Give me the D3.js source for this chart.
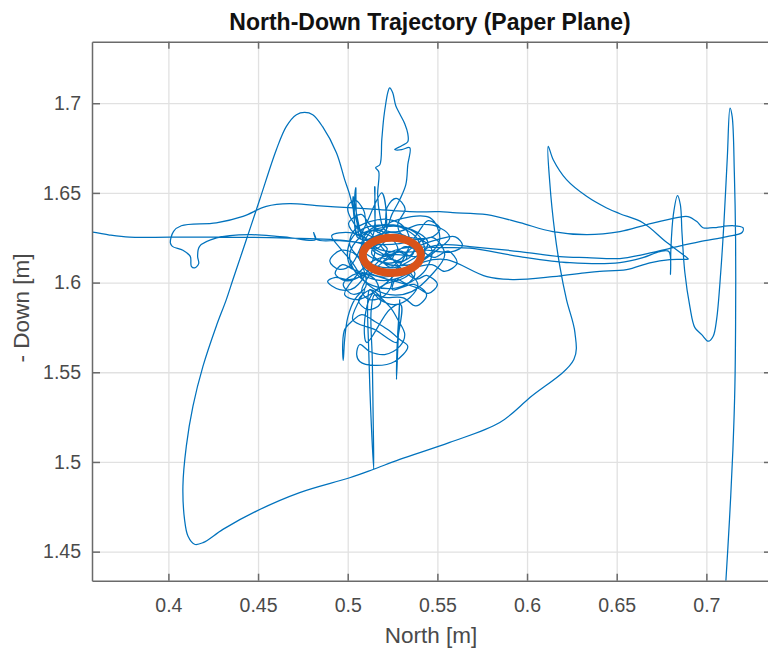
<!DOCTYPE html>
<html>
<head>
<meta charset="utf-8">
<script src="https://cdn.jsdelivr.net/npm/d3@7"></script>
<style>
  body { margin: 0; background: #fff; }
  text { font-family: "Liberation Sans", Arial, sans-serif; }
</style>
</head>
<body>
<div id="viz"></div>
<script>
const xTicks = [0.4, 0.45, 0.5, 0.55, 0.6, 0.65, 0.7],
    yTicks = [1.45, 1.5, 1.55, 1.6, 1.65, 1.7],
    xDomain = [0.3574, 0.7366],
    yDomain = [1.4338, 1.7343];

// trajectory pieces, [north, -down] in metres
const startLeg = [[0.3505,1.6284],[0.3577,1.6281],[0.3672,1.6265],[0.3784,1.6253],[0.4007,1.6253],[0.4286,1.6253],[0.4565,1.6251],[0.4788,1.6245],[0.4955,1.6237],[0.5056,1.6223]];

const knotA = [[0.5134,1.6195],[0.5223,1.6145],[0.5290,1.6117],[0.5357,1.6150],[0.5374,1.6212],[0.5318,1.6262],[0.5223,1.6279],[0.5123,1.6240],[0.5067,1.6167],[0.5089,1.6084],[0.5179,1.6033],[0.5279,1.6045],[0.5385,1.6095],[0.5430,1.6173],[0.5396,1.6262],[0.5290,1.6312],[0.5167,1.6301],[0.5067,1.6251],[0.5011,1.6156],[0.5045,1.6056],[0.5140,1.5983],[0.5251,1.5967],[0.5357,1.6006],[0.5435,1.6072],[0.5469,1.6184]];

const westLoop = [[0.5402,1.6240],[0.5290,1.6217],[0.5179,1.6212],[0.5067,1.6223],[0.4955,1.6234],[0.4827,1.6240],[0.4810,1.6279],[0.4821,1.6240],[0.4676,1.6251],[0.4604,1.6258],[0.4453,1.6267],[0.4269,1.6249],[0.4174,1.6202],[0.4163,1.6146],[0.4169,1.6106],[0.4146,1.6082],[0.4128,1.6091],[0.4122,1.6146],[0.4081,1.6180],[0.4022,1.6202],[0.4011,1.6221],[0.4029,1.6286],[0.4072,1.6317],[0.4267,1.6333],[0.4416,1.6369],[0.4546,1.6425],[0.4676,1.6440],[0.4825,1.6429],[0.5030,1.6416],[0.5179,1.6407],[0.5346,1.6395],[0.5513,1.6395],[0.5586,1.6390],[0.5776,1.6379],[0.5960,1.6334],[0.6144,1.6284],[0.6334,1.6267],[0.6518,1.6284],[0.6668,1.6323],[0.6836,1.6362],[0.6897,1.6368],[0.6947,1.6340],[0.6981,1.6306],[0.7037,1.6306],[0.7148,1.6317],[0.7204,1.6306],[0.7199,1.6279],[0.7115,1.6256],[0.6964,1.6228],[0.6814,1.6195],[0.6646,1.6156],[0.6518,1.6134],[0.6334,1.6139],[0.6183,1.6145],[0.5960,1.6173],[0.5681,1.6201],[0.5541,1.6212]];

const knotB = [[0.5446,1.6195],[0.5374,1.6139],[0.5262,1.6084],[0.5151,1.6095],[0.5067,1.6139],[0.5011,1.6212],[0.5039,1.6295],[0.5123,1.6340],[0.5234,1.6351],[0.5318,1.6306],[0.5346,1.6212],[0.5290,1.6128],[0.5206,1.6111],[0.5134,1.6162],[0.5167,1.6228],[0.5246,1.6240],[0.5279,1.6184],[0.5234,1.6139],[0.5179,1.6100],[0.5112,1.6028],[0.5078,1.5950],[0.5123,1.5905],[0.5206,1.5928],[0.5246,1.6000],[0.5223,1.6072],[0.5011,1.6017],[0.4927,1.6028],[0.4888,1.6006],[0.4955,1.5961],[0.5039,1.5972]];

const bigLoop = [[0.5151,1.6184],[0.5078,1.6267],[0.5039,1.6379],[0.5011,1.6490],[0.4983,1.6574],[0.4937,1.6724],[0.4860,1.6869],[0.4805,1.6936],[0.4760,1.6949],[0.4714,1.6936],[0.4658,1.6871],[0.4602,1.6741],[0.4509,1.6462],[0.4435,1.6240],[0.4360,1.6017],[0.4323,1.5905],[0.4267,1.5757],[0.4193,1.5534],[0.4137,1.5311],[0.4100,1.5088],[0.4081,1.4865],[0.4090,1.4680],[0.4109,1.4587],[0.4146,1.4541],[0.4193,1.4550],[0.4304,1.4624],[0.4491,1.4726],[0.4732,1.4829],[0.5011,1.4912],[0.5141,1.4958],[0.5290,1.5014],[0.5569,1.5109],[0.5848,1.5220],[0.6016,1.5359],[0.6261,1.5571],[0.6267,1.5721],[0.6220,1.5905],[0.6183,1.6091],[0.6155,1.6277],[0.6127,1.6555],[0.6118,1.6759],[0.6146,1.6685],[0.6220,1.6574],[0.6332,1.6481],[0.6444,1.6416],[0.6518,1.6384],[0.6646,1.6334],[0.6780,1.6223],[0.6892,1.6139],[0.6899,1.6132],[0.6797,1.6128],[0.6685,1.6110],[0.6555,1.6072],[0.6406,1.6063],[0.6334,1.6056],[0.6144,1.6033],[0.5921,1.6017],[0.5776,1.6033],[0.5552,1.6128],[0.5430,1.6117]];

const southLoops = [[0.5346,1.6072],[0.5391,1.5989],[0.5346,1.5916],[0.5262,1.5877],[0.5179,1.5905],[0.5123,1.5961],[0.5112,1.5905],[0.5117,1.5627],[0.5128,1.5293],[0.5145,1.4958],[0.5142,1.5237],[0.5137,1.5571],[0.5131,1.5850],[0.5151,1.5933],[0.5234,1.5866],[0.5279,1.5794],[0.5318,1.5710],[0.5290,1.5644],[0.5206,1.5599],[0.5123,1.5616],[0.5067,1.5655],[0.5050,1.5599],[0.5067,1.5560],[0.5151,1.5538],[0.5262,1.5560],[0.5335,1.5644],[0.5290,1.5683],[0.5223,1.5738],[0.5151,1.5783],[0.5078,1.5822],[0.5022,1.5783],[0.4983,1.5738],[0.4972,1.5655],[0.4975,1.5566],[0.4983,1.5683],[0.5000,1.5805],[0.5039,1.5905],[0.5095,1.5961],[0.5028,1.5794],[0.5151,1.5738],[0.5273,1.5666],[0.5279,1.5721],[0.5290,1.5905],[0.5279,1.5627],[0.5272,1.5460],[0.5276,1.5655],[0.5296,1.5877],[0.5234,1.5850],[0.5106,1.5666],[0.5095,1.5794],[0.5134,1.5933],[0.5206,1.5989],[0.5318,1.6028],[0.5413,1.6117],[0.5502,1.6184],[0.5569,1.6251],[0.5513,1.6306],[0.5402,1.6323],[0.5279,1.6284]];

const northSpike = [[0.5206,1.6295],[0.5179,1.6379],[0.5167,1.6490],[0.5173,1.6618],[0.5156,1.6641],[0.5179,1.6657],[0.5190,1.6797],[0.5201,1.6919],[0.5212,1.6997],[0.5223,1.7058],[0.5234,1.7086],[0.5251,1.7058],[0.5268,1.6986],[0.5290,1.6941],[0.5318,1.6886],[0.5335,1.6830],[0.5335,1.6785],[0.5301,1.6763],[0.5262,1.6741],[0.5301,1.6741],[0.5346,1.6752],[0.5335,1.6657],[0.5324,1.6546],[0.5290,1.6462],[0.5246,1.6379],[0.5206,1.6284],[0.5078,1.6240],[0.5045,1.6529],[0.5056,1.6251],[0.5134,1.6251],[0.5151,1.6535],[0.5167,1.6279]];

const knotC = [[0.5246,1.6340],[0.5458,1.6362],[0.5513,1.6240],[0.5430,1.6139],[0.5307,1.6095],[0.5179,1.6117],[0.5078,1.6195],[0.5123,1.6295],[0.5262,1.6317],[0.5391,1.6240],[0.5402,1.6117],[0.5290,1.6028],[0.5151,1.6017],[0.5022,1.6084],[0.5000,1.6184],[0.5056,1.6284],[0.5206,1.6323],[0.5357,1.6295],[0.5446,1.6228],[0.5402,1.6150],[0.5262,1.6156],[0.5134,1.6117],[0.5039,1.6028],[0.4983,1.5933],[0.5056,1.5905],[0.5167,1.5961],[0.5262,1.6045],[0.5346,1.6184],[0.5474,1.6251],[0.5541,1.6156],[0.5469,1.6045],[0.5357,1.5950],[0.5234,1.5933],[0.5112,1.5989],[0.5022,1.6117],[0.4955,1.6195],[0.4911,1.6262],[0.5011,1.6279],[0.5095,1.6251],[0.5179,1.6184],[0.5402,1.6184]];

const knotD = [[0.5130,1.6318],[0.5075,1.6380],[0.5005,1.6330],[0.5050,1.6268],[0.5120,1.6290],
    [0.5200,1.6300],[0.5220,1.6420],[0.5270,1.6470],[0.5320,1.6410],[0.5280,1.6330],
    [0.5300,1.6270],[0.5460,1.6250],[0.5515,1.6300],[0.5450,1.6345],[0.5400,1.6290],
    [0.5350,1.6200],[0.5500,1.6240],[0.5600,1.6255],[0.5640,1.6205],[0.5570,1.6170],[0.5420,1.6180],
    [0.5480,1.6140],[0.5560,1.6175],[0.5610,1.6110],[0.5540,1.6062],[0.5470,1.6100],
    [0.5260,1.6060],[0.5310,1.6100],[0.5375,1.6050],[0.5330,1.5995],[0.5270,1.6020],
    [0.5250,1.5960],[0.5370,1.5990],[0.5440,1.5930],[0.5380,1.5870],[0.5310,1.5915],
    [0.5190,1.5920],[0.5130,1.5960],[0.5060,1.5900],[0.5110,1.5850],[0.5180,1.5880],
    [0.5150,1.6020],[0.5050,1.6050],[0.4975,1.5990],[0.5030,1.5935],[0.5100,1.5975],
    [0.5050,1.6150],[0.4960,1.6180],[0.4900,1.6120],[0.4950,1.6075],[0.5020,1.6100],
    [0.5090,1.6230],[0.5140,1.6290],[0.5210,1.6245],[0.5160,1.6190],[0.5100,1.6210],
    [0.5030,1.6480],[0.5060,1.6260],[0.5190,1.6500],[0.5200,1.6250]];

const knotF = [[0.5060,1.6300],[0.5000,1.6420],[0.5040,1.6460],[0.5090,1.6400],[0.5110,1.6310],
    [0.5380,1.6020],[0.5440,1.6040],[0.5500,1.5990],[0.5450,1.5940],[0.5390,1.5970],
    [0.5040,1.6070],[0.4970,1.6100],[0.4930,1.6050],[0.4990,1.6010],[0.5080,1.6040],[0.5200,1.6150]];

const knotE = [[0.5220,1.6190],[0.5180,1.6215],[0.5140,1.6185],[0.5180,1.6155],[0.5250,1.6160],[0.5290,1.6170],[0.5330,1.6140],[0.5290,1.6110],[0.5250,1.6135],[0.5320,1.6200],[0.5370,1.6185],[0.5345,1.6150],[0.5300,1.6175],[0.5234,1.6150],[0.5200,1.6117],[0.5240,1.6085],[0.5275,1.6120],[0.5190,1.6140],[0.5300,1.6190]];

const eastLeg = [[0.5541,1.6195],[0.5681,1.6192],[0.5960,1.6145],[0.6239,1.6111],[0.6518,1.6111],[0.6646,1.6139],[0.6741,1.6173],[0.6791,1.6173],[0.6800,1.6045],[0.6802,1.6184],[0.6816,1.6379],[0.6839,1.6485],[0.6855,1.6434],[0.6864,1.6279],[0.6880,1.6056],[0.6908,1.5866],[0.6936,1.5749],[0.6974,1.5710],[0.7011,1.5673],[0.7038,1.5701],[0.7057,1.5794],[0.7080,1.6056],[0.7098,1.6334],[0.7117,1.6702],[0.7132,1.6973],[0.7144,1.6925],[0.7156,1.6613],[0.7163,1.6240],[0.7163,1.5777],[0.7159,1.5421],[0.7148,1.5070],[0.7129,1.4680],[0.7106,1.4290]];

// orange marker ring: centre and half-widths
const ringCenter = [0.5246, 1.6152],
    ringRadius = [0.0162, 0.0098];

const track = [].concat(startLeg, knotA, westLoop, knotB, bigLoop, southLoops, northSpike, knotC, knotD, knotF, knotE, eastLeg);

const svg = d3.select('#viz')
    .append('svg')
    .attr('width', 768)
    .attr('height', 650);

const margin = {top: 41.7, left: 92},
    width = 680,
    height = 539;

const x = d3.scaleLinear().domain(xDomain).range([0, width]);
const y = d3.scaleLinear().domain(yDomain).range([height, 0]);

const g = svg.append('g')
    .attr('transform', 'translate(' + margin.left + ',' + margin.top + ')');

g.append('clipPath').attr('id', 'plotclip')
    .append('rect').attr('width', width).attr('height', height);

// grid
g.append('g')
    .attr('transform', 'translate(0,' + height + ')')
    .call(d3.axisBottom(x).tickValues(xTicks).tickSize(-height).tickFormat(''))
    .call(a => a.select('.domain').remove())
    .selectAll('line').attr('stroke', '#e1e1e1').attr('stroke-width', 1.3);

g.append('g')
    .call(d3.axisLeft(y).tickValues(yTicks).tickSize(-width).tickFormat(''))
    .call(a => a.select('.domain').remove())
    .selectAll('line').attr('stroke', '#e1e1e1').attr('stroke-width', 1.3);

// data
const line = d3.line()
    .x(d => x(d[0]))
    .y(d => y(d[1]))
    .curve(d3.curveCatmullRom.alpha(0.5));

const plot = g.append('g').attr('clip-path', 'url(#plotclip)');

plot.append('path')
    .datum(track)
    .attr('d', line)
    .attr('fill', 'none')
    .attr('stroke', '#0072BD')
    .attr('stroke-width', 1.25)
    .attr('stroke-linejoin', 'round');

plot.append('ellipse')
    .attr('cx', x(ringCenter[0]))
    .attr('cy', y(ringCenter[1]))
    .attr('rx', x(ringCenter[0] + ringRadius[0]) - x(ringCenter[0]))
    .attr('ry', y(ringCenter[1]) - y(ringCenter[1] + ringRadius[1]))
    .attr('fill', 'none')
    .attr('stroke', '#D95319')
    .attr('stroke-width', 8);

// axes, ticks pointing inward
const axisColor = '#6a6a6a';

function styleAxis(a) {
    a.select('.domain').attr('stroke', axisColor).attr('stroke-width', 1.5);
    a.selectAll('.tick line').attr('stroke', axisColor).attr('stroke-width', 1.5);
    a.selectAll('.tick text')
        .attr('fill', '#4a4a4a')
        .style('font-size', '19.5px')
        .style('font-family', '"Liberation Sans", Arial, sans-serif');
}

g.append('g')
    .attr('transform', 'translate(0,' + height + ')')
    .call(d3.axisBottom(x).tickValues(xTicks).tickSizeInner(-7).tickSizeOuter(0).tickPadding(17.6).tickFormat(d3.format('')))
    .call(styleAxis);

g.append('g')
    .call(d3.axisTop(x).tickValues(xTicks).tickSizeInner(-7).tickSizeOuter(0).tickFormat(''))
    .call(styleAxis);

g.append('g')
    .call(d3.axisLeft(y).tickValues(yTicks).tickSizeInner(-8).tickSizeOuter(0).tickPadding(11).tickFormat(d3.format('')))
    .call(styleAxis);

g.append('g')
    .attr('transform', 'translate(' + width + ',0)')
    .call(d3.axisRight(y).tickValues(yTicks).tickSizeInner(-8).tickSizeOuter(0).tickFormat(''))
    .call(styleAxis);

// title and labels
svg.append('text')
    .attr('x', 430)
    .attr('y', 30)
    .attr('text-anchor', 'middle')
    .style('font-size', '23px')
    .style('font-weight', 'bold')
    .attr('fill', '#111')
    .text('North-Down Trajectory (Paper Plane)');

svg.append('text')
    .attr('x', 431)
    .attr('y', 643)
    .attr('text-anchor', 'middle')
    .style('font-size', '22.5px')
    .attr('fill', '#4a4a4a')
    .text('North [m]');

svg.append('text')
    .attr('transform', 'translate(29,308) rotate(-90)')
    .attr('text-anchor', 'middle')
    .style('font-size', '22.5px')
    .attr('fill', '#4a4a4a')
    .text('- Down [m]');
</script>
</body>
</html>
